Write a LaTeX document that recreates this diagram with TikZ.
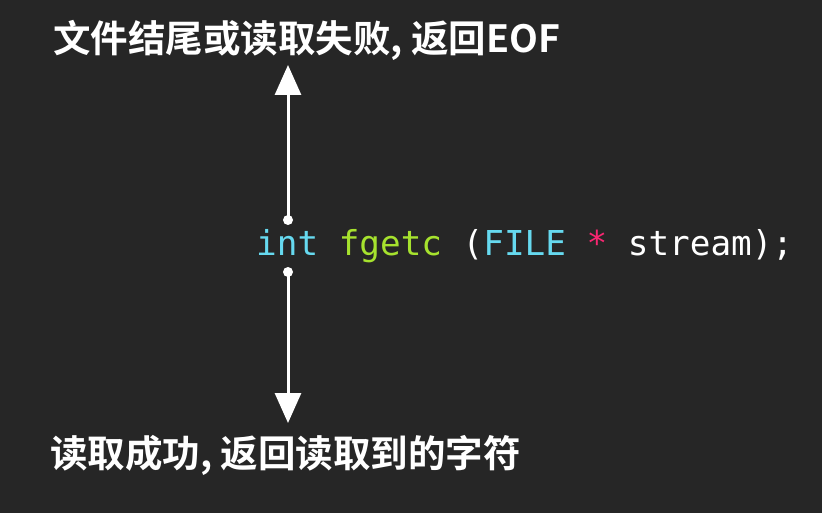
\documentclass[tikz,border=0pt]{standalone}
\usepackage{fontspec}
\newfontfamily\cjk{Noto Sans CJK SC}[BoldFont={* Bold}]
\newfontfamily\codefont{DejaVu Sans Mono}
\usetikzlibrary{arrows.meta}
\definecolor{bg}{HTML}{262626}
\definecolor{kwcyan}{HTML}{66D9EF}
\definecolor{fngreen}{HTML}{A6E22E}
\definecolor{oppink}{HTML}{F92672}
\begin{document}
\begin{tikzpicture}[x=1pt,y=-1pt,
  label/.style={text=white,font=\cjk\bfseries\fontsize{37.5}{44}\selectfont,inner sep=0pt,anchor=west},
  code/.style={text=white,font=\codefont\fontsize{34.3}{40}\selectfont,inner sep=0pt,anchor=base west},
  conn/.style={draw=white,line width=3pt,-{Triangle[width=26pt,length=30pt]}},
  dot/.style={fill=white,circle,inner sep=0pt,minimum size=10pt}]
\fill[bg] (0,0) rectangle (822,513);
\useasboundingbox (0,0) rectangle (822,513);
\node[label] (top) at (53,40) {文件结尾或读取失败, 返回EOF};
\node[label] (bottom) at (50,455) {读取成功, 返回读取到的字符};
\node[code] (sig) at (256,255) {\textcolor{kwcyan}{int} \textcolor{fngreen}{fgetc} (\textcolor{kwcyan}{FILE} \textcolor{oppink}{*} stream);};
\node[dot] (d1) at (288,220) {};
\node[dot] (d2) at (288,272) {};
\coordinate (t1) at (288,65);
\coordinate (t2) at (288,423);
\draw[conn] (d1.center) -- (t1);
\draw[conn] (d2.center) -- (t2);
\end{tikzpicture}
\end{document}
